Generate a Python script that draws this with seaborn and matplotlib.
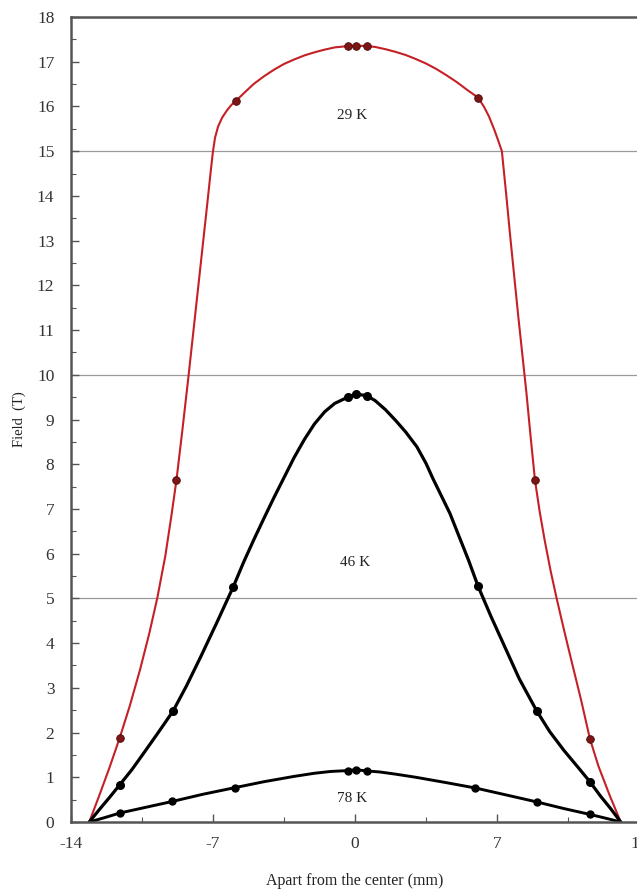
import numpy as np
import matplotlib
matplotlib.use("Agg")
import matplotlib.pyplot as plt
from matplotlib.ticker import MultipleLocator
import seaborn as sns
import pandas as pd

# curve traces (x in mm, field in T)
x_29 = [-13.1, -12.6, -12.1, -11.6, -11.1, -10.6, -10.15, -9.75, -9.35, -9.05, -8.8, -8.5, -8.2,
        -7.9, -7.6, -7.3, -7.1, -7.0, -6.9, -6.75, -6.55, -6.3, -6.1, -5.86, -5.4, -5.0, -4.5,
        -4.0, -3.5, -3.0, -2.5, -2.0, -1.5, -1.0, -0.35, 0.05, 0.6, 1.0, 1.5, 2.0, 2.5, 3.0,
        3.5, 4.0, 4.5, 5.0, 5.5, 6.06, 6.35, 6.6, 6.85, 7.05, 7.24, 7.45, 7.65, 7.85, 8.05,
        8.25, 8.45, 8.65, 8.87, 9.1, 9.35, 9.65, 9.94, 10.3, 10.7, 11.15, 11.58, 12.0, 12.55, 13.1]
y_29 = [0, 0.6, 1.22, 1.88, 2.6, 3.4, 4.2, 5.0, 5.95, 6.85, 7.65, 8.8, 10.0,
        11.25, 12.5, 13.75, 14.6, 15.0, 15.3, 15.55, 15.75, 15.92, 16.03, 16.13, 16.33, 16.5, 16.67,
        16.82, 16.95, 17.05, 17.14, 17.21, 17.27, 17.32, 17.35, 17.36, 17.35, 17.33, 17.28, 17.22, 17.15, 17.06,
        16.96, 16.84, 16.7, 16.55, 16.38, 16.2, 16.0, 15.78, 15.5, 15.25, 15.0, 14.05, 13.1, 12.2, 11.3,
        10.45, 9.6, 8.65, 7.65, 6.95, 6.3, 5.6, 5.0, 4.3, 3.55, 2.72, 1.86, 1.25, 0.6, 0]

x_46 = [-13.1, -12.6, -12.1, -11.6, -11.0, -10.4, -9.7, -8.97, -8.3, -7.6, -6.8, -6.0, -5.5,
        -5.0, -4.5, -4.0, -3.5, -3.0, -2.5, -2.0, -1.5, -1.0, -0.35, 0.05, 0.6, 1.0, 1.5, 2.0,
        2.5, 3.05, 3.5, 3.84, 4.25, 4.68, 5.1, 5.6, 6.06, 6.7, 7.4, 8.1, 8.95, 9.6, 10.3, 11.0,
        11.58, 12.1, 12.6, 13.1]
y_46 = [0, 0.28, 0.55, 0.83, 1.17, 1.55, 2.0, 2.48, 3.05, 3.7, 4.47, 5.26, 5.8,
        6.3, 6.78, 7.25, 7.7, 8.15, 8.55, 8.9, 9.17, 9.36, 9.5, 9.57, 9.53, 9.42, 9.22, 8.98,
        8.72, 8.39, 8.02, 7.68, 7.3, 6.9, 6.42, 5.85, 5.28, 4.6, 3.9, 3.2, 2.49, 2.02, 1.6, 1.22,
        0.9, 0.58, 0.3, 0]

x_78 = [-13.1, -12.4, -11.6, -10.3, -9.0, -7.5, -5.9, -4.5, -3.0, -2.0, -1.2, -0.35, 0.05,
        0.6, 1.2, 2.0, 3.0, 4.5, 5.94, 7.5, 8.95, 10.3, 11.58, 12.4, 13.1]
y_78 = [0, 0.09, 0.2, 0.33, 0.46, 0.62, 0.77, 0.9, 1.02, 1.09, 1.13, 1.15, 1.17,
        1.14, 1.12, 1.07, 1.0, 0.88, 0.76, 0.6, 0.45, 0.3, 0.17, 0.08, 0]

# measured points (markers)
mx_29 = [-11.6, -8.8, -5.86, -0.35, 0.05, 0.6, 6.06, 8.87, 11.58]
my_29 = [1.88, 7.65, 16.13, 17.35, 17.36, 17.35, 16.2, 7.65, 1.86]
mx_46 = [-11.6, -8.97, -6.0, -0.35, 0.05, 0.6, 6.06, 8.95, 11.58]
my_46 = [0.83, 2.48, 5.26, 9.5, 9.57, 9.53, 5.28, 2.49, 0.9]
mx_78 = [-11.6, -9.0, -5.9, -0.35, 0.05, 0.6, 5.94, 8.95, 11.58]
my_78 = [0.2, 0.46, 0.77, 1.15, 1.17, 1.14, 0.76, 0.45, 0.17]

labels = ["29 K", "46 K", "78 K"]
label_x = [-0.15, 0.0, -0.15]
label_y = [15.8, 5.8, 0.53]

sns.set_style("ticks")
plt.rcParams['font.family'] = ['Liberation Serif', 'DejaVu Serif']
plt.rcParams['axes.unicode_minus'] = False

fig = plt.figure(figsize=(6.37, 8.89), dpi=100)
ax = fig.add_axes([71 / 637, 67 / 889, 568 / 637, 805 / 889])

# horizontal reference lines
for g in [5, 10, 15]:
    ax.axhline(g, color='#9a9a9a', lw=0.9, zorder=0)

red = '#c42026'
sns.lineplot(x=x_29, y=y_29, sort=False, estimator=None, color=red, lw=1.5, ax=ax)
sns.lineplot(x=x_46, y=y_46, sort=False, estimator=None, color='black', lw=2.3, ax=ax)
sns.lineplot(x=x_78, y=y_78, sort=False, estimator=None, color='black', lw=2.1, ax=ax)
for ln in ax.lines:
    ln.set_solid_joinstyle('round')

ax.plot(mx_29, my_29, 'o', color='#7d1416', ms=5.5, mec='#4a0a0a', mew=0.6, zorder=5)
ax.plot(mx_46, my_46, 'o', color='black', ms=5.5, zorder=5)
ax.plot(mx_78, my_78, 'o', color='black', ms=5, zorder=5)

for t, tx, ty in zip(labels, label_x, label_y):
    ax.text(tx, ty, t, ha='center', va='center', fontsize=11, color='#222222')

ax.set_xlim(-14, 14)
ax.set_ylim(0, 18)
ax.xaxis.set_major_locator(MultipleLocator(7))
ax.xaxis.set_minor_locator(MultipleLocator(3.5))
ax.yaxis.set_major_locator(MultipleLocator(1))
ax.yaxis.set_minor_locator(MultipleLocator(0.5))
ax.tick_params(which='both', direction='in', colors='#555555', labelcolor='#333333',
               labelsize=12.5)
ax.tick_params(which='major', length=6, width=1)
ax.tick_params(which='minor', length=3.5, width=0.8)
ax.tick_params(axis='y', pad=12)
ax.tick_params(axis='x', pad=10)

for side in ['left', 'bottom', 'top']:
    ax.spines[side].set_color('#555555')
    ax.spines[side].set_linewidth(1.8)
ax.spines['right'].set_visible(False)

ax.set_xlabel('Apart from the center (mm)', fontsize=11.5, color='#222222', labelpad=15)
ax.set_ylabel('Field  (T)', fontsize=10.5, color='#222222', labelpad=8)

fig.savefig('out.png', dpi=100)
